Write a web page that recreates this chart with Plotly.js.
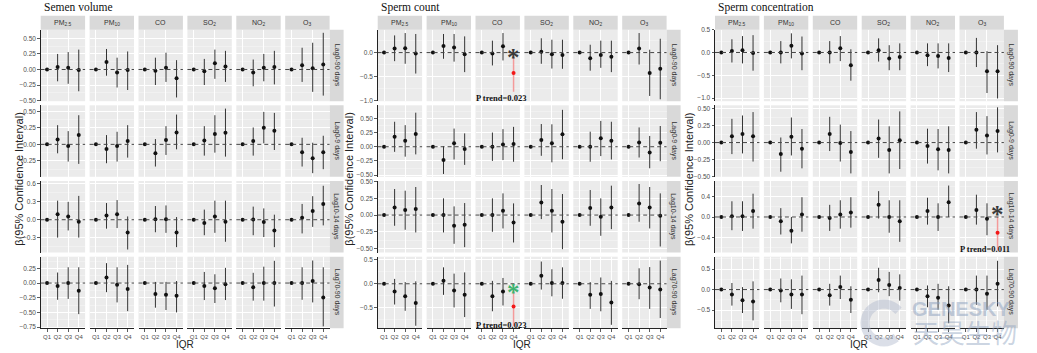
<!DOCTYPE html>
<html><head><meta charset="utf-8">
<script src="https://cdn.plot.ly/plotly-3.0.1.min.js"></script>
<style>html,body{margin:0;padding:0;background:#fff}</style>
</head><body><div id="chart" style="width:1037px;height:353px"></div>
<script>
const panels = ['Semen volume','Sperm count','Sperm concentration'];
const pollutants = ['PM<sub>2.5</sub>','PM<sub>10</sub>','CO','SO<sub>2</sub>','NO<sub>2</sub>','O<sub>3</sub>'];
const lags = ['Lag0-90 days','Lag0-9 days','Lag10-14 days','Lag70-90 days'];
const quartiles = ['Q1','Q2','Q3','Q4'];

// β for Q2..Q4 (Q1 = reference, 0). Index: [lag][pollutant][Q2,Q3,Q4]
const volEst = [
  [[0.04,0.03,-0.01],[0.12,-0.05,-0.01],[-0.02,0.03,-0.14],[-0.03,0.10,0.05],[-0.05,0.03,0.04],[0.07,0.02,0.08]],
  [[0.075,-0.025,0.14],[-0.07,-0.025,0.05],[-0.135,0.065,0.18],[0.06,0.155,0.175],[0.05,0.25,0.205],[-0.12,-0.21,-0.12]],
  [[0.09,0.055,-0.035],[0.07,0.09,-0.215],[0.01,0.01,-0.215],[-0.055,0.055,-0.035],[0.005,-0.04,-0.18],[0.035,0.145,0.265]],
  [[-0.05,0.0,-0.13],[0.095,-0.03,-0.10],[-0.185,-0.20,-0.215],[-0.05,-0.09,-0.02],[-0.07,0.0,0.0],[0.0,0.035,-0.245]]
];
const volLow = [
  [[-0.19,-0.23,-0.35],[-0.10,-0.29,-0.33],[-0.25,-0.20,-0.45],[-0.25,-0.15,-0.20],[-0.27,-0.19,-0.24],[-0.20,-0.36,-0.42]],
  [[-0.135,-0.26,-0.295],[-0.285,-0.26,-0.20],[-0.335,-0.16,-0.075],[-0.17,-0.125,-0.185],[-0.17,0.015,-0.085],[-0.335,-0.435,-0.375]],
  [[-0.30,-0.18,-0.30],[-0.15,-0.14,-0.50],[-0.21,-0.22,-0.46],[-0.26,-0.22,-0.37],[-0.26,-0.29,-0.46],[-0.23,-0.12,-0.095]],
  [[-0.285,-0.27,-0.53],[-0.155,-0.33,-0.48],[-0.42,-0.46,-0.50],[-0.29,-0.34,-0.29],[-0.30,-0.30,-0.40],[-0.285,-0.33,-0.74]]
];
const volHigh = [
  [[0.25,0.28,0.32],[0.33,0.19,0.29],[0.19,0.27,0.15],[0.17,0.32,0.30],[0.16,0.25,0.30],[0.35,0.43,0.59]],
  [[0.29,0.20,0.44],[0.14,0.19,0.29],[0.08,0.275,0.45],[0.275,0.44,0.54],[0.255,0.49,0.475],[0.10,0.025,0.13]],
  [[0.32,0.30,0.40],[0.28,0.33,0.055],[0.23,0.24,0.045],[0.17,0.32,0.32],[0.22,0.19,0.085],[0.265,0.395,0.57]],
  [[0.18,0.27,0.27],[0.34,0.27,0.31],[0.02,0.02,0.035],[0.19,0.15,0.26],[0.175,0.28,0.38],[0.27,0.385,0.27]]
];

const cntEst = [
  [[0.085,0.09,-0.02],[0.14,0.105,-0.035],[-0.02,0.135,-0.43],[0.02,-0.035,-0.05],[-0.12,-0.05,-0.085],[0.085,-0.43,-0.34]],
  [[0.175,0.105,0.225],[-0.235,0.06,-0.04],[0.0,0.04,0.05],[0.12,0.06,0.22],[0.0,0.15,0.105],[0.075,-0.10,0.07]],
  [[0.115,0.075,0.09],[0.0,-0.16,-0.145],[0.0,0.065,-0.11],[0.19,0.065,-0.10],[0.105,-0.025,0.115],[0.175,0.115,-0.01]],
  [[-0.16,-0.26,-0.40],[0.06,-0.14,-0.23],[-0.26,-0.16,-0.47],[0.165,0.015,0.015],[-0.23,-0.21,-0.39],[-0.01,-0.075,-0.12]]
];
const cntLow = [
  [[-0.18,-0.235,-0.44],[-0.13,-0.19,-0.41],[-0.27,-0.165,-0.82],[-0.235,-0.335,-0.34],[-0.38,-0.32,-0.41],[-0.25,-0.91,-0.98]],
  [[-0.09,-0.175,-0.135],[-0.48,-0.225,-0.32],[-0.25,-0.235,-0.265],[-0.16,-0.275,-0.22],[-0.265,-0.165,-0.225],[-0.19,-0.38,-0.255]],
  [[-0.16,-0.22,-0.26],[-0.26,-0.43,-0.48],[-0.25,-0.20,-0.41],[-0.06,-0.26,-0.51],[-0.16,-0.31,-0.21],[-0.10,-0.20,-0.47]],
  [[-0.43,-0.56,-0.87],[-0.23,-0.49,-0.69],[-0.57,-0.45,-0.88],[-0.12,-0.26,-0.31],[-0.52,-0.57,-0.85],[-0.32,-0.52,-0.71]]
];
const cntHigh = [
  [[0.36,0.41,0.39],[0.39,0.39,0.34],[0.25,0.41,-0.04],[0.30,0.27,0.27],[0.165,0.25,0.25],[0.41,0.06,0.29]],
  [[0.44,0.38,0.60],[0.01,0.32,0.235],[0.25,0.31,0.35],[0.40,0.395,0.65],[0.265,0.455,0.44],[0.34,0.19,0.365]],
  [[0.39,0.365,0.42],[0.25,0.13,0.18],[0.25,0.325,0.175],[0.45,0.39,0.315],[0.375,0.25,0.44],[0.465,0.42,0.325]],
  [[0.10,0.035,0.05],[0.34,0.21,0.235],[0.06,0.12,-0.06],[0.46,0.30,0.34],[0.035,0.13,0.06],[0.32,0.345,0.48]]
];

const concEst = [
  [[0.035,0.05,-0.01],[0.0,0.15,-0.02],[0.0,0.09,-0.28],[0.05,-0.13,-0.10],[-0.06,-0.08,-0.12],[0.0,-0.41,-0.41]],
  [[0.095,0.125,0.095],[-0.17,0.085,-0.09],[0.125,-0.005,-0.14],[0.06,-0.11,0.035],[-0.05,-0.10,-0.11],[0.19,0.105,0.17]],
  [[0.015,0.015,0.12],[-0.085,-0.27,0.05],[-0.02,0.05,0.09],[0.24,0.0,-0.085],[0.12,0.0,0.29],[0.14,-0.035,-0.31]],
  [[-0.12,-0.26,-0.29],[-0.025,-0.12,-0.12],[-0.14,0.06,-0.25],[0.23,0.11,0.04],[-0.16,-0.20,-0.39],[0.0,-0.10,0.14]]
];
const concLow = [
  [[-0.22,-0.24,-0.40],[-0.24,-0.13,-0.39],[-0.24,-0.19,-0.62],[-0.20,-0.39,-0.39],[-0.30,-0.35,-0.43],[-0.32,-0.89,-1.01]],
  [[-0.17,-0.16,-0.28],[-0.43,-0.19,-0.38],[-0.125,-0.28,-0.455],[-0.225,-0.455,-0.39],[-0.31,-0.41,-0.455],[-0.09,-0.175,-0.145]],
  [[-0.26,-0.275,-0.23],[-0.345,-0.52,-0.29],[-0.275,-0.23,-0.21],[-0.03,-0.31,-0.49],[-0.15,-0.275,0.0],[-0.15,-0.36,-0.66]],
  [[-0.39,-0.57,-0.75],[-0.31,-0.47,-0.60],[-0.39,-0.23,-0.57],[-0.065,-0.16,-0.27],[-0.43,-0.49,-0.82],[-0.37,-0.49,-0.41]]
];
const concHigh = [
  [[0.29,0.36,0.38],[0.25,0.42,0.35],[0.25,0.36,0.07],[0.31,0.16,0.20],[0.20,0.20,0.20],[0.32,0.03,0.16]],
  [[0.35,0.40,0.45],[0.075,0.37,0.20],[0.38,0.265,0.17],[0.34,0.24,0.46],[0.205,0.20,0.24],[0.45,0.39,0.52]],
  [[0.31,0.31,0.46],[0.175,0.0,0.39],[0.24,0.33,0.39],[0.51,0.33,0.33],[0.38,0.27,0.62],[0.44,0.27,0.0]],
  [[0.16,0.06,0.20],[0.27,0.25,0.34],[0.14,0.34,0.08],[0.53,0.43,0.37],[0.10,0.14,0.08],[0.34,0.34,0.70]]
];

// y-axis range per panel and lag row, tick step
const yRanges = [
  [[-0.51,0.64],[-0.49,0.59],[-0.55,0.65],[-0.77,0.45]],
  [[-1.02,0.48],[-0.53,0.73],[-0.56,0.51],[-0.92,0.56]],
  [[-1.07,0.50],[-0.505,0.55],[-0.70,0.71],[-0.94,0.80]]
];
const yDticks = [[0.25,0.25,0.3,0.25],[0.5,0.25,0.25,0.5],[0.5,0.25,0.4,0.5]];

// significant Q4 trends: [panel, lag, pollutant, star colour, star y, label]
const highlights = [
  [1,0,2,'#3A3A3A',0.0,'P trend=0.023'],
  [1,3,2,'#3CB371',-0.07,'P trend=0.023'],
  [2,2,5,'#3A3A3A',0.145,'P trend=0.011']
];

const ests=[volEst,cntEst,concEst], lows=[volLow,cntLow,concLow], highs=[volHigh,cntHigh,concHigh];

const W=1037,H=353;
const fx=v=>v/W, fy=v=>1-v/H;
const panelLeft=[40.7,377.7,715], colPitch=48.9, colW=44.4;
const rowTop=[29.7,105.3,181,256.7], rowH=71.5;
const yTitleOffset=[22,29,26];
const SANS='Liberation Sans, Arial, sans-serif', SERIF='Liberation Serif, Times New Roman, serif';

const traces=[], layout={
  width:W,height:H,margin:{l:0,r:0,t:0,b:0},paper_bgcolor:'#fff',plot_bgcolor:'#EBEBEB',
  showlegend:false,shapes:[],annotations:[],font:{family:SANS}
};

for(let p=0;p<3;p++){
  for(let r=0;r<4;r++){
    for(let c=0;c<6;c++){
      const n=p*24+r*6+c+1, sfx=n===1?'':String(n);
      const left=panelLeft[p]+c*colPitch, top=rowTop[r];
      const dt=yDticks[p][r];
      layout['xaxis'+sfx]={domain:[fx(left),fx(left+colW)],anchor:'y'+sfx,type:'category',
        categoryorder:'array',categoryarray:quartiles,range:[-0.6,3.6],
        showticklabels:r===3,ticks:r===3?'outside':'',ticklen:2.5,tickcolor:'#333',tickwidth:0.8,tickangle:0,
        showgrid:true,gridcolor:'#FFFFFF',gridwidth:1,zeroline:false,
        showline:r===3,linecolor:'#222',linewidth:1,
        tickfont:{size:6,color:'#4D4D4D',family:SANS},fixedrange:true};
      layout['yaxis'+sfx]={domain:[fy(top+rowH),fy(top)],anchor:'x'+sfx,range:yRanges[p][r],
        tick0:0,dtick:dt,tickformat:(dt===0.25?'.2f':'.1f'),
        showticklabels:c===0,ticks:c===0?'outside':'',ticklen:2.5,tickcolor:'#333',tickwidth:0.8,
        showgrid:true,gridcolor:'#FFFFFF',gridwidth:1,zeroline:false,
        minor:{tick0:0,dtick:dt/2,showgrid:true,gridcolor:'#F7F7F7',gridwidth:0.5,ticks:''},
        showline:c===0,linecolor:'#222',linewidth:1,
        tickfont:{size:6.5,color:'#4D4D4D',family:SANS},fixedrange:true};
      layout.shapes.push({type:'line',layer:'above',xref:'x'+sfx+' domain',x0:0,x1:1,yref:'y'+sfx,y0:0,y1:0,
        line:{color:'#444',width:1,dash:'4px,3px'}});

      const e=ests[p][r][c], lo=lows[p][r][c], hi=highs[p][r][c];
      const hl=highlights.find(h=>h[0]===p&&h[1]===r&&h[2]===c);
      const ys=[0,...e], los=[0,...lo], his=[0,...hi];
      const nMain=hl?3:4;
      traces.push({type:'scatter',mode:'markers',xaxis:'x'+sfx,yaxis:'y'+sfx,
        x:quartiles.slice(0,nMain),y:ys.slice(0,nMain),
        marker:{color:'#111',size:4},
        error_y:{type:'data',symmetric:false,array:his.slice(0,nMain).map((h,i)=>h-ys[i]),
          arrayminus:los.slice(0,nMain).map((l,i)=>ys[i]-l),width:0,thickness:1,color:'#333'},
        hoverinfo:'skip'});
      if(hl){
        traces.push({type:'scatter',mode:'markers',xaxis:'x'+sfx,yaxis:'y'+sfx,
          x:[quartiles[3]],y:[ys[3]],marker:{color:'#F21818',size:4},
          error_y:{type:'data',symmetric:false,array:[his[3]-ys[3]],arrayminus:[ys[3]-los[3]],
            width:0,thickness:1.5,color:'#F49A9A'},hoverinfo:'skip'});
        layout.annotations.push({xref:'x'+sfx,yref:'y'+sfx,x:quartiles[3],y:hl[4],text:'<b>*</b>',showarrow:false,
          yshift:-5,font:{family:SERIF,size:25,color:hl[3]}});
        layout.annotations.push({xref:'x'+sfx+' domain',yref:'y'+sfx+' domain',x:0.58,y:0.05,text:'<b>'+hl[5]+'</b>',
          showarrow:false,xanchor:'center',yanchor:'middle',font:{family:SERIF,size:8.5,color:'#111'}});
      }
      if(r===0){
        layout.shapes.push({type:'rect',xref:'paper',yref:'paper',x0:fx(left),x1:fx(left+colW),y0:fy(top),y1:fy(15.7),
          fillcolor:'#D9D9D9',line:{width:0},layer:'below'});
        layout.annotations.push({xref:'paper',yref:'paper',x:fx(left+colW/2),y:fy(22.7),text:pollutants[c],showarrow:false,
          xanchor:'center',yanchor:'middle',font:{size:7,color:'#333',family:SANS}});
      }
    }
    const rl=panelLeft[p]+5*colPitch+colW;
    layout.shapes.push({type:'rect',xref:'paper',yref:'paper',x0:fx(rl),x1:fx(rl+14),y0:fy(rowTop[r]+rowH),y1:fy(rowTop[r]),
      fillcolor:'#D9D9D9',line:{width:0},layer:'below'});
    layout.annotations.push({xref:'paper',yref:'paper',x:fx(rl+7),y:fy(rowTop[r]+rowH/2),text:lags[r],textangle:90,showarrow:false,
      xanchor:'center',yanchor:'middle',font:{size:7,color:'#333',family:SANS}});
  }
  const pl=panelLeft[p], pr=panelLeft[p]+5*colPitch+colW;
  layout.annotations.push({xref:'paper',yref:'paper',x:fx(pl+1),y:fy(7),text:panels[p],showarrow:false,xanchor:'left',yanchor:'middle',
    font:{family:SERIF,size:11.5,color:'#111'}});
  layout.annotations.push({xref:'paper',yref:'paper',x:fx((pl+pr)/2),y:fy(344),text:'IQR',showarrow:false,xanchor:'center',yanchor:'middle',
    font:{family:SANS,size:10,color:'#222'}});
  layout.annotations.push({xref:'paper',yref:'paper',x:fx(pl-yTitleOffset[p]),y:fy(179),text:'β(95% Confidence Interval)',textangle:-90,showarrow:false,
    xanchor:'center',yanchor:'middle',font:{family:SANS,size:11,color:'#222'}});
}
// watermark logo swirl (decorative arc)
(function(){
  const cx=884, cy=323, rad=19; let d='';
  for(let a=40;a<=310;a+=10){
    const t=a*Math.PI/180, X=cx+rad*Math.cos(t), Y=cy-rad*Math.sin(t);
    d+=(d?' L ':'M ')+fx(X).toFixed(4)+','+fy(Y).toFixed(4);
  }
  layout.shapes.push({type:'path',xref:'paper',yref:'paper',path:d,line:{color:'rgba(175,185,205,0.45)',width:9},layer:'above'});
})();
layout.annotations.push({xref:'paper',yref:'paper',x:fx(961),y:fy(309),text:'<b>GENESKY</b>',showarrow:false,xanchor:'center',yanchor:'middle',
  font:{family:SANS,size:20,color:'rgba(140,160,190,0.5)'}});
layout.annotations.push({xref:'paper',yref:'paper',x:fx(965),y:fy(331),text:'天昊生物',showarrow:false,xanchor:'center',yanchor:'middle',
  font:{family:'Noto Sans CJK SC',size:26,color:'rgba(140,160,190,0.45)'}});

Plotly.newPlot('chart',traces,layout,{staticPlot:true,displayModeBar:false});
</script></body></html>
